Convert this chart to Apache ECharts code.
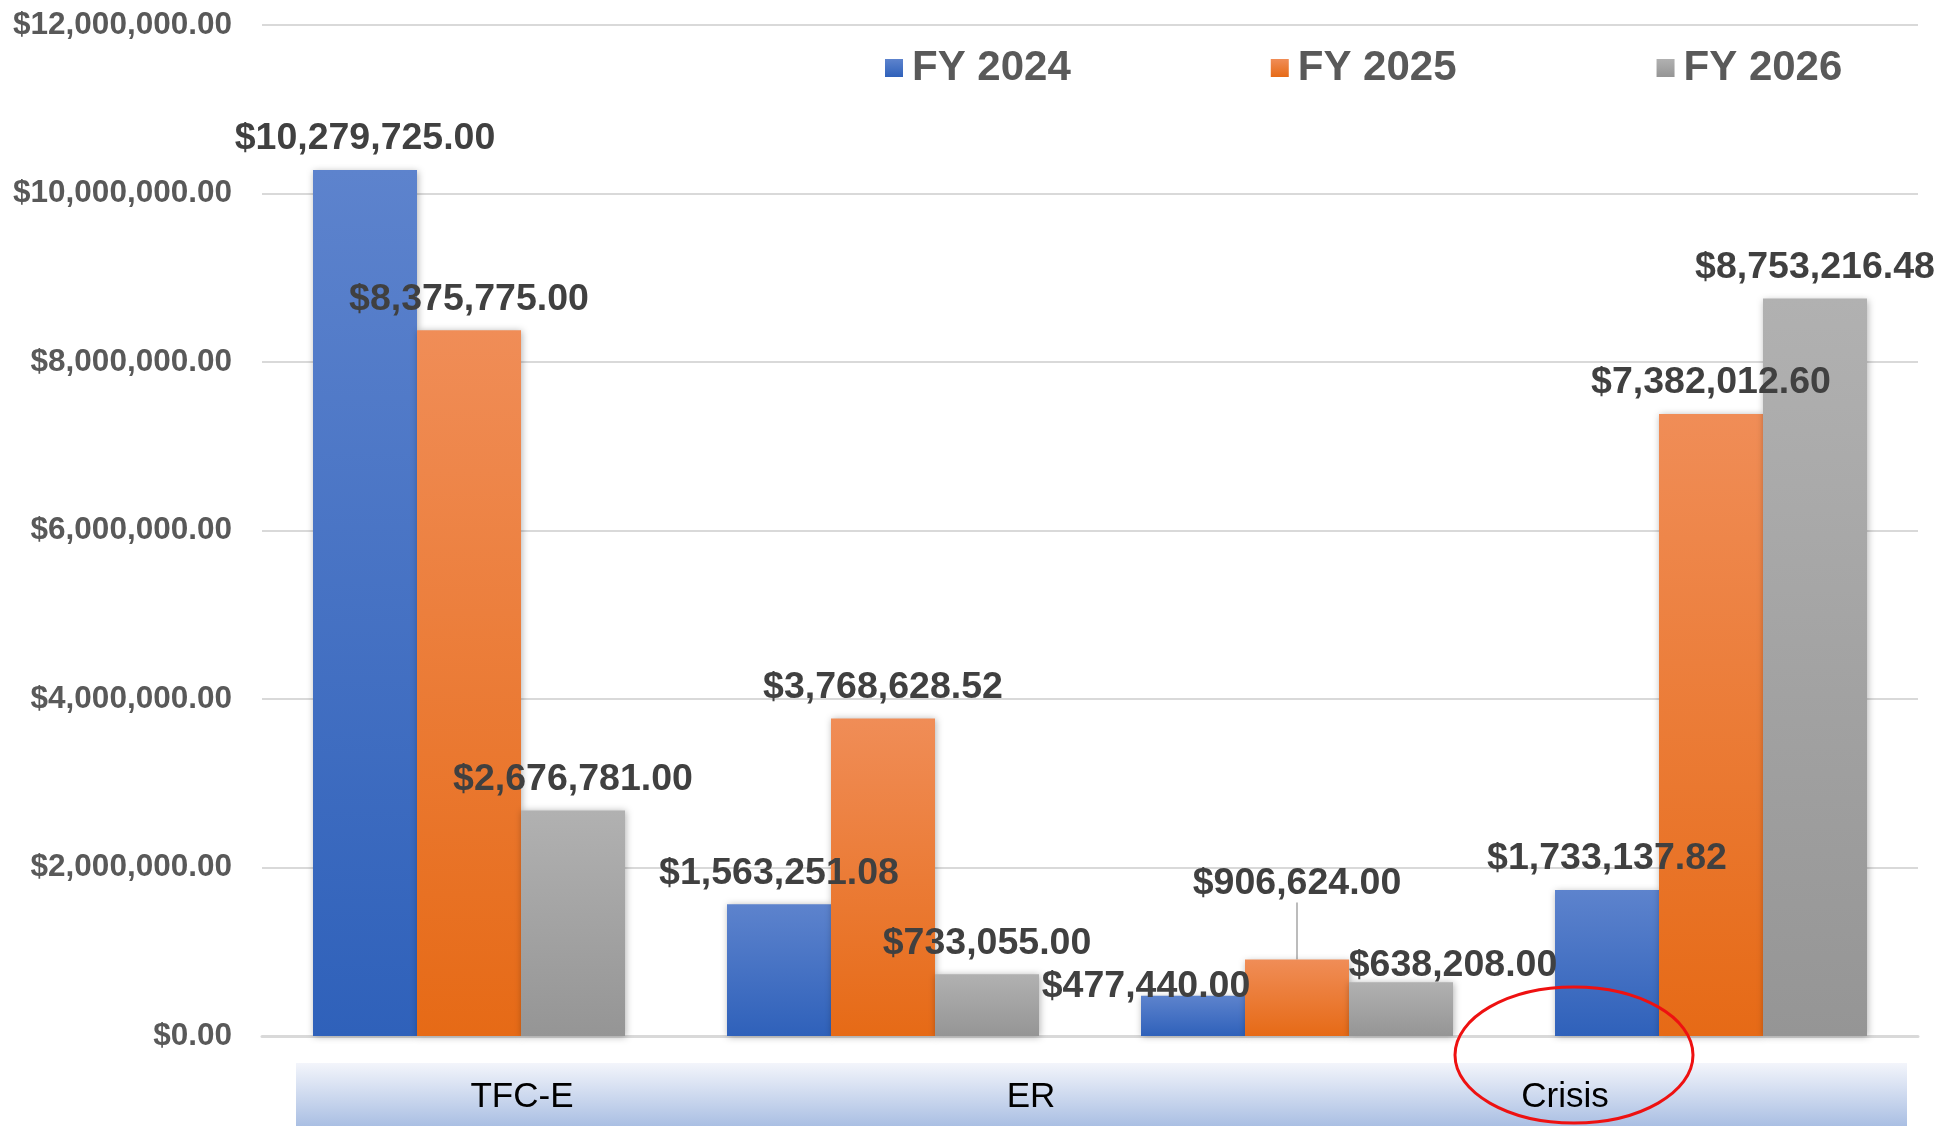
<!DOCTYPE html>
<html>
<head>
<meta charset="utf-8">
<script src="https://cdn.jsdelivr.net/npm/echarts@6/dist/echarts.min.js"></script>
<style>
  html, body { margin: 0; padding: 0; background: #fff; }
  #chart { width: 1957px; height: 1126px; }
</style>
</head>
<body>
<div id="chart"></div>
<script>
// groups on the value axis (labels hidden, the band below carries the text)
const categories = ["TFC-E", "ER", "", "Crisis"];
const seriesNames = ["FY 2024", "FY 2025", "FY 2026"];
const fy2024 = [10279725.00, 1563251.08, 477440.00, 1733137.82];
const fy2025 = [8375775.00, 3768628.52, 906624.00, 7382012.60];
const fy2026 = [2676781.00, 733055.00, 638208.00, 8753216.48];
const bandLabels = ["TFC-E", "ER", "Crisis"];
const yTicks = [0, 2000000, 4000000, 6000000, 8000000, 10000000, 12000000];

const money = v => "$" + Number(v).toLocaleString("en-US", { minimumFractionDigits: 2, maximumFractionDigits: 2 });

function grad(top, bottom) {
  return new echarts.graphic.LinearGradient(0, 0, 0, 1, [
    { offset: 0, color: top },
    { offset: 1, color: bottom }
  ]);
}

const colors = [
  grad("#5d83cd", "#2f61ba"),
  grad("#f08d57", "#e66a16"),
  grad("#b1b1b1", "#959595")
];

// a few labels were nudged by hand in the original
const labelMoves = {
  "0-2": { dx: -47, dy: 22 },
  "1-2": { dy: -45 },
  "2-2": { dx: 52, dy: 14 }
};

const chart = echarts.init(document.getElementById("chart"));

const series = [fy2024, fy2025, fy2026].map((vals, i) => ({
  name: seriesNames[i],
  type: "bar",
  data: vals.map((v, j) => labelMoves[i + "-" + j] && i === 1
    ? { value: v, labelLine: { show: true, lineStyle: { color: "#a6a6a6", width: 1.5 } } }
    : v),
  barWidth: 104,
  barGap: "0%",
  itemStyle: {
    color: colors[i],
    shadowBlur: 7,
    shadowColor: "rgba(0,0,0,0.3)",
    shadowOffsetX: 1,
    shadowOffsetY: 1
  },
  label: {
    show: true,
    position: "top",
    distance: 12,
    formatter: p => money(p.value),
    fontFamily: "Liberation Sans, Arial, sans-serif",
    fontWeight: "bold",
    fontSize: 37.5,
    color: "#404040"
  },
  labelLine: { show: false },
  labelLayout: function (params) {
    const m = labelMoves[i + "-" + params.dataIndex];
    return m ? m : {};
  }
}));

chart.setOption({
  animation: false,
  textStyle: { fontFamily: "Liberation Sans, Arial, sans-serif" },
  grid: { left: 262, right: 39, top: 25, bottom: 90 },
  legend: {
    data: seriesNames,
    left: 880,
    top: 42,
    icon: "rect",
    itemWidth: 18,
    itemHeight: 18,
    itemGap: 200,
    textStyle: { fontSize: 42, fontWeight: "bold", color: "#595959", padding: [0, 0, 0, 4] }
  },
  xAxis: {
    type: "category",
    data: categories,
    axisLabel: { show: false },
    axisTick: { show: false },
    axisLine: { lineStyle: { color: "#d9d9d9", width: 3 } }
  },
  yAxis: {
    type: "value",
    min: yTicks[0],
    max: yTicks[yTicks.length - 1],
    interval: yTicks[1] - yTicks[0],
    axisLabel: {
      formatter: v => money(v),
      fontSize: 31.5,
      fontWeight: "bold",
      color: "#595959",
      margin: 30
    },
    splitLine: { lineStyle: { color: "#d9d9d9", width: 2 } },
    axisLine: { show: false },
    axisTick: { show: false }
  },
  graphic: [
    {
      type: "rect",
      x: 296,
      y: 1063,
      shape: { width: 1611, height: 63 },
      style: { fill: grad("#f3f5fb", "#aabfe3") },
      z: 1
    },
    {
      type: "text",
      x: 522, y: 1097,
      style: { text: bandLabels[0], fontSize: 35, fill: "#000", align: "center", verticalAlign: "middle" },
      z: 2
    },
    {
      type: "text",
      x: 1031, y: 1097,
      style: { text: bandLabels[1], fontSize: 35, fill: "#000", align: "center", verticalAlign: "middle" },
      z: 2
    },
    {
      type: "text",
      x: 1565, y: 1097,
      style: { text: bandLabels[2], fontSize: 35, fill: "#000", align: "center", verticalAlign: "middle" },
      z: 2
    },
    {
      type: "ellipse",
      shape: { cx: 1574, cy: 1055, rx: 119, ry: 68 },
      style: { fill: "none", stroke: "#ee1111", lineWidth: 3 },
      z: 10
    }
  ],
  series: series
});

window.addEventListener("resize", () => chart.resize());
</script>
</body>
</html>
